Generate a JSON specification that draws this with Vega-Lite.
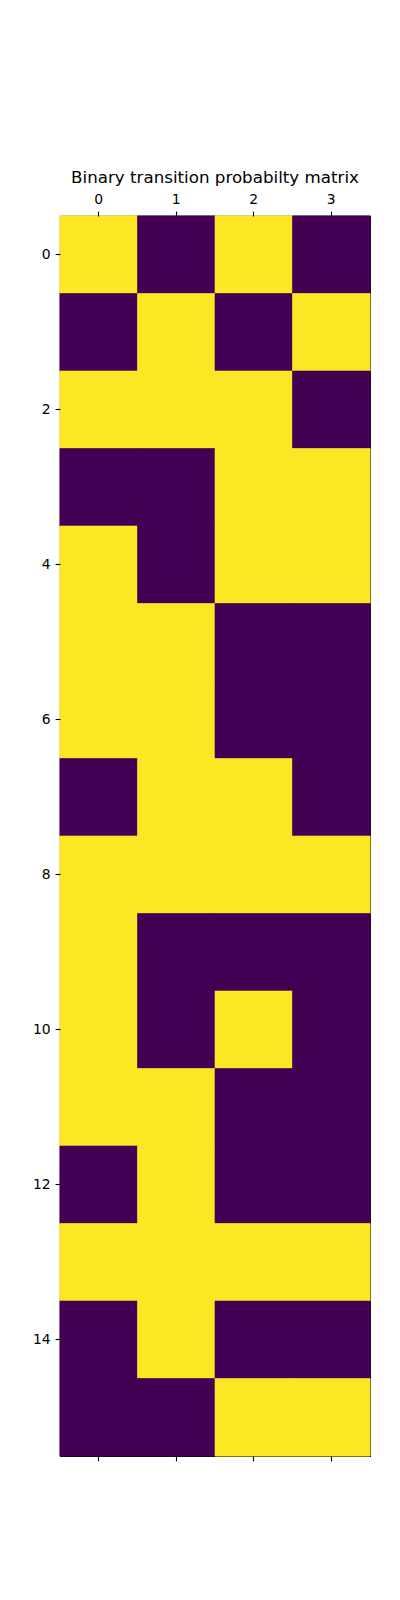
{
  "$schema": "https://vega.github.io/schema/vega-lite/v6.json",
  "autosize": "none",
  "padding": {"left": 60, "top": 216, "right": 30, "bottom": 144},
  "width": 310,
  "height": 1240,
  "background": "white",
  "title": {"text": "Binary transition probabilty matrix", "font": "DejaVu Sans", "fontSize": 16.7, "fontWeight": "normal", "color": "black", "anchor": "middle", "offset": 6},
  "config": {
    "view": {"stroke": "black", "strokeWidth": 1.1},
    "axis": {"domain": false, "grid": false, "ticks": true, "tickColor": "black", "tickSize": 4.9, "tickWidth": 1.1, "labelFont": "DejaVu Sans", "labelFontSize": 13.9, "labelColor": "black", "labelPadding": 4.9, "title": null, "labelAngle": 0}
  },
  "data": {"values": [
    {"row":0,"col":0,"v":1},{"row":0,"col":1,"v":0},{"row":0,"col":2,"v":1},{"row":0,"col":3,"v":0},
    {"row":1,"col":0,"v":0},{"row":1,"col":1,"v":1},{"row":1,"col":2,"v":0},{"row":1,"col":3,"v":1},
    {"row":2,"col":0,"v":1},{"row":2,"col":1,"v":1},{"row":2,"col":2,"v":1},{"row":2,"col":3,"v":0},
    {"row":3,"col":0,"v":0},{"row":3,"col":1,"v":0},{"row":3,"col":2,"v":1},{"row":3,"col":3,"v":1},
    {"row":4,"col":0,"v":1},{"row":4,"col":1,"v":0},{"row":4,"col":2,"v":1},{"row":4,"col":3,"v":1},
    {"row":5,"col":0,"v":1},{"row":5,"col":1,"v":1},{"row":5,"col":2,"v":0},{"row":5,"col":3,"v":0},
    {"row":6,"col":0,"v":1},{"row":6,"col":1,"v":1},{"row":6,"col":2,"v":0},{"row":6,"col":3,"v":0},
    {"row":7,"col":0,"v":0},{"row":7,"col":1,"v":1},{"row":7,"col":2,"v":1},{"row":7,"col":3,"v":0},
    {"row":8,"col":0,"v":1},{"row":8,"col":1,"v":1},{"row":8,"col":2,"v":1},{"row":8,"col":3,"v":1},
    {"row":9,"col":0,"v":1},{"row":9,"col":1,"v":0},{"row":9,"col":2,"v":0},{"row":9,"col":3,"v":0},
    {"row":10,"col":0,"v":1},{"row":10,"col":1,"v":0},{"row":10,"col":2,"v":1},{"row":10,"col":3,"v":0},
    {"row":11,"col":0,"v":1},{"row":11,"col":1,"v":1},{"row":11,"col":2,"v":0},{"row":11,"col":3,"v":0},
    {"row":12,"col":0,"v":0},{"row":12,"col":1,"v":1},{"row":12,"col":2,"v":0},{"row":12,"col":3,"v":0},
    {"row":13,"col":0,"v":1},{"row":13,"col":1,"v":1},{"row":13,"col":2,"v":1},{"row":13,"col":3,"v":1},
    {"row":14,"col":0,"v":0},{"row":14,"col":1,"v":1},{"row":14,"col":2,"v":0},{"row":14,"col":3,"v":0},
    {"row":15,"col":0,"v":0},{"row":15,"col":1,"v":0},{"row":15,"col":2,"v":1},{"row":15,"col":3,"v":1}
  ]},
  "resolve": {"axis": {"x": "independent"}},
  "layer": [
    {
      "mark": {"type": "rect", "strokeWidth": 0.6},
      "encoding": {
        "x": {"field": "col", "type": "ordinal", "scale": {"domain": [0,1,2,3], "paddingInner": 0, "paddingOuter": 0}, "axis": {"orient": "top"}},
        "y": {"field": "row", "type": "ordinal", "scale": {"domain": [0,1,2,3,4,5,6,7,8,9,10,11,12,13,14,15], "paddingInner": 0, "paddingOuter": 0}, "axis": {"values": [0,2,4,6,8,10,12,14]}},
        "color": {"field": "v", "type": "nominal", "scale": {"domain": [0,1], "range": ["#440154", "#fde725"]}, "legend": null},
        "stroke": {"field": "v", "type": "nominal", "scale": {"domain": [0,1], "range": ["#440154", "#fde725"]}, "legend": null}
      }
    },
    {
      "mark": {"type": "rect", "strokeWidth": 0.6},
      "encoding": {
        "x": {"field": "col", "type": "ordinal", "axis": {"orient": "bottom", "labels": false}},
        "y": {"field": "row", "type": "ordinal"},
        "color": {"field": "v", "type": "nominal", "legend": null},
        "stroke": {"field": "v", "type": "nominal", "legend": null}
      }
    }
  ]
}
